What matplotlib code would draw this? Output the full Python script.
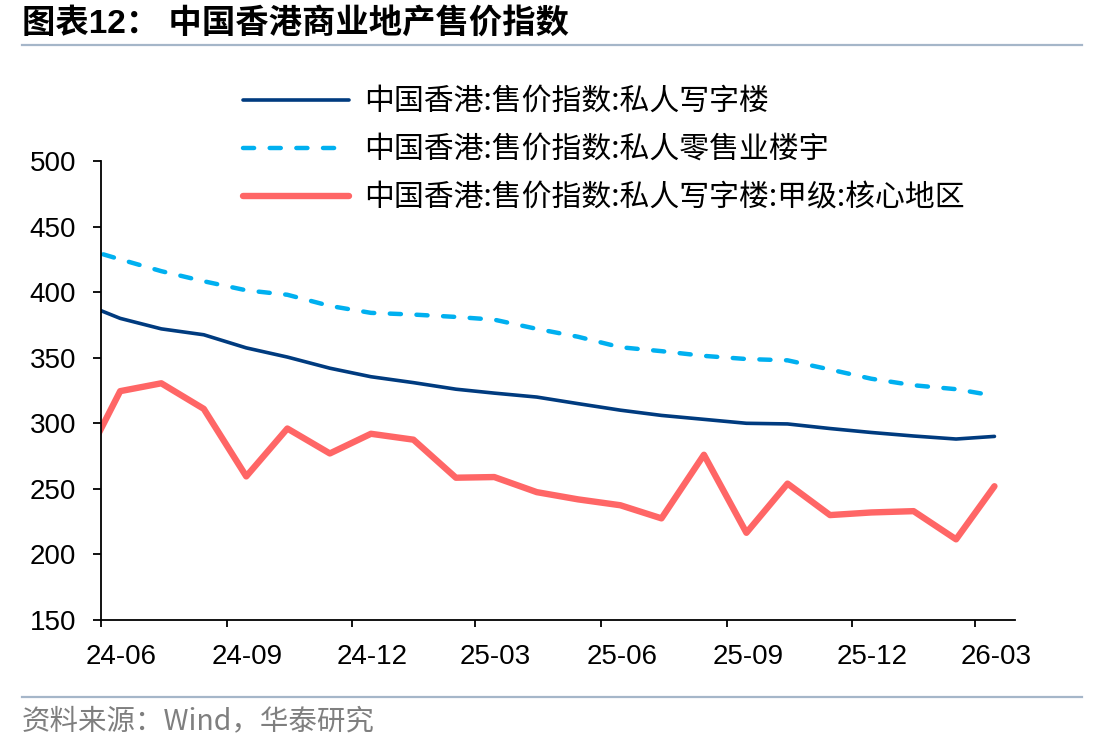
import matplotlib
matplotlib.use("Agg")
import matplotlib.pyplot as plt
import matplotlib.dates as mdates
import pandas as pd

plt.rcParams['font.family'] = ['Liberation Sans', 'Noto Sans CJK SC', 'DejaVu Sans']

months = ["2024-05", "2024-06", "2024-07", "2024-08", "2024-09", "2024-10", "2024-11", "2024-12",
          "2025-01", "2025-02", "2025-03", "2025-04", "2025-05", "2025-06", "2025-07", "2025-08",
          "2025-09", "2025-10", "2025-11", "2025-12", "2026-01", "2026-02", "2026-03"]
office = [393, 380, 372, 367.5, 357.5, 350.5, 342, 335.5, 331, 326, 323, 320,
          315, 310, 306, 303, 300, 299.5, 296, 293, 290.3, 288, 290]
retail = [434.6, 425, 416, 408.3, 401.4, 398, 389.5, 384.2, 382.9, 381.1, 379, 372,
          366, 358, 355, 351.4, 349, 348, 341, 334, 329, 326, 321]
grade_a = [261, 324.5, 330.5, 311, 259.5, 296, 277, 292, 287.5, 258.5, 259, 247.5,
           242, 237.5, 227.5, 276, 216.5, 254, 230, 232, 233, 211.5, 252]
labels = ["中国香港:售价指数:私人写字楼",
          "中国香港:售价指数:私人零售业楼宇",
          "中国香港:售价指数:私人写字楼:甲级:核心地区"]
tick_months = ["2024-06", "2024-09", "2024-12", "2025-03", "2025-06", "2025-09", "2025-12", "2026-03"]

dates = pd.to_datetime(months) + pd.Timedelta(days=14)
cjk = ['Noto Sans CJK SC', 'DejaVu Sans']

fig = plt.figure(figsize=(11.12, 7.52), dpi=100)
ax = fig.add_axes([101 / 1112, 1 - 620 / 752, 914 / 1112, 459 / 752])

ax.plot(dates, office, color='#003B7F', lw=2.6, label=labels[0], solid_capstyle='round')
ax.plot(dates, retail, color='#00B0F0', lw=3.2, label=labels[1], dashes=(2.5, 3.5),
        dash_capstyle='round')
ax.plot(dates, grade_a, color='#FF6666', lw=4.6, label=labels[2], solid_capstyle='round')

ax.set_ylim(150, 500)
ax.set_yticks(range(150, 501, 50))
ax.set_xlim(pd.Timestamp("2024-06-01"), pd.Timestamp("2026-03-30"))
# tick marks at month start, labels centred mid-month (like the source chart)
ax.set_xticks(pd.to_datetime(tick_months))
ax.xaxis.set_major_formatter(plt.NullFormatter())
ax.set_xticks(pd.to_datetime(tick_months) + pd.Timedelta(days=15), minor=True)
ax.xaxis.set_minor_formatter(mdates.DateFormatter('%y-%m'))

for s in ['top', 'right']:
    ax.spines[s].set_visible(False)
for s in ['left', 'bottom']:
    ax.spines[s].set_linewidth(1.3)
ax.tick_params(axis='y', direction='out', length=6, width=1.3, pad=12, labelsize=20)
ax.tick_params(axis='x', which='major', direction='out', length=5, width=1.3)
ax.tick_params(axis='x', which='minor', length=0, pad=17, labelsize=20)

leg = ax.legend(loc='upper left', bbox_to_anchor=(243 / 1112, 1 - 86 / 752),
                bbox_transform=fig.transFigure, frameon=False, borderpad=0,
                borderaxespad=0, handlelength=3.55, handletextpad=0.5, labelspacing=0.57,
                prop={'family': cjk, 'size': 21.5})

fig.text(22 / 1112, 1 - 24 / 752, "图表12： 中国香港商业地产售价指数", fontsize=24,
         fontweight='bold', va='center', ha='left')
fig.add_artist(plt.Line2D([22 / 1112, 1082 / 1112], [1 - 45 / 752, 1 - 45 / 752],
                          color='#A5B6C9', lw=1.6))
fig.add_artist(plt.Line2D([22 / 1112, 1082 / 1112], [1 - 697 / 752, 1 - 697 / 752],
                          color='#A5B6C9', lw=1.6))
fig.text(22 / 1112, 1 - 721 / 752, "资料来源：Wind，华泰研究", fontsize=20.5, color='#7F7F7F',
         va='center', ha='left', family=cjk)

fig.savefig("out.png", dpi=100)
